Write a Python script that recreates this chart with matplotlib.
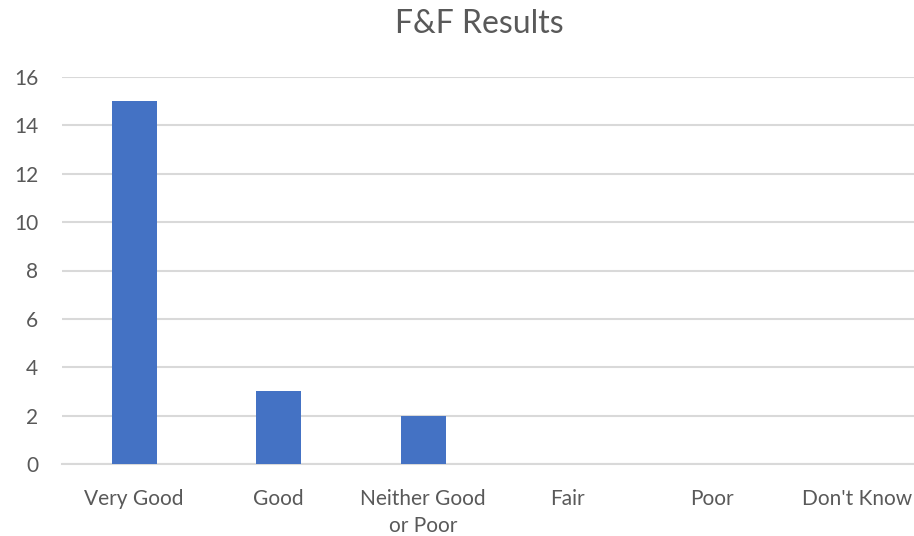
import matplotlib
matplotlib.use("Agg")
import matplotlib.pyplot as plt

# Data
categories = ["Very Good", "Good", "Neither Good\nor Poor", "Fair", "Poor", "Don't Know"]
counts = [15, 3, 2, 0, 0, 0]
y_ticks = [0, 2, 4, 6, 8, 10, 12, 14, 16]

BAR_COLOR = "#4472C4"
TEXT_COLOR = "#595959"
GRID_COLOR = "#D9D9D9"

plt.rcParams["font.family"] = ["Lato", "DejaVu Sans"]

fig = plt.figure(figsize=(9.14, 5.36), dpi=100)
# plot area runs a little past the right edge, as in the cropped original
ax = fig.add_axes([62 / 914, 72 / 536, 867 / 914, 387 / 536])

x = range(len(categories))
ax.bar(x, counts, width=0.31, color=BAR_COLOR, zorder=3)

ax.set_xlim(-0.5, len(categories) - 0.5)
ax.set_ylim(0, 16)
ax.set_yticks(y_ticks)
ax.set_xticks(list(x))
ax.set_xticklabels(categories, linespacing=1.45)

ax.grid(axis="y", color=GRID_COLOR, linewidth=1.5, zorder=0)
for side in ["top", "right", "left"]:
    ax.spines[side].set_visible(False)
ax.spines["bottom"].set_color(GRID_COLOR)
ax.spines["bottom"].set_linewidth(1.5)

ax.tick_params(axis="both", length=0, labelsize=15, colors=TEXT_COLOR)
ax.tick_params(axis="y", pad=17)
ax.tick_params(axis="x", pad=18)

fig.text(479 / 914, 1 - 24 / 536, "F&F Results", ha="center", va="center",
         fontsize=23, color=TEXT_COLOR)

fig.savefig("out.png", dpi=100)
